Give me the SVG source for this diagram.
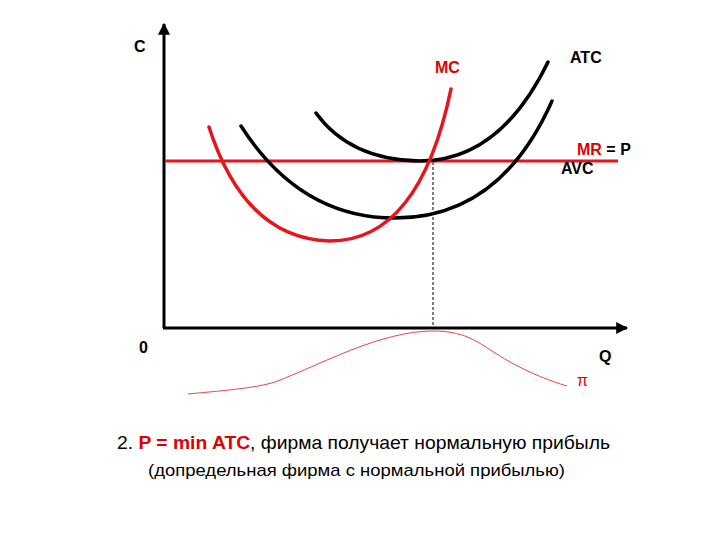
<svg xmlns="http://www.w3.org/2000/svg" width="720" height="540" viewBox="0 0 720 540">
<style>
.lbl{font-family:"Liberation Sans",Arial,sans-serif;font-size:16px;font-weight:bold;fill:#000}
.red{fill:#e00000}
.curve{fill:none;stroke-width:3.5;stroke-linecap:round}
.blk{stroke:#000}
.rd{stroke:#e8141c}
.txt{font-family:"Liberation Sans",Arial,sans-serif;fill:#000}
</style>
<defs>
<marker id="arr" viewBox="0 0 10 10" refX="9" refY="5" markerWidth="4" markerHeight="4" orient="auto" markerUnits="strokeWidth">
<path d="M0,0 L10,5 L0,10 z" fill="#000"/>
</marker>
</defs>
<rect width="720" height="540" fill="#fff"/>
<g id="connectors">
<line x1="164" y1="328" x2="164" y2="24" stroke="#000" stroke-width="3" marker-end="url(#arr)"/>
<line x1="163" y1="328" x2="627" y2="328" stroke="#000" stroke-width="3" marker-end="url(#arr)"/>
<line x1="433" y1="162" x2="433" y2="328" stroke="#000" stroke-width="1" stroke-dasharray="3,2"/>
</g>
<g id="mr-line"><line x1="165" y1="161" x2="618" y2="161" stroke="#e8141c" stroke-width="3"/></g>
<g id="atc"><path class="curve blk" d="M316,113 Q350,160 420,161 Q500,161 548,62"/></g>
<g id="avc"><path class="curve blk" d="M241,126 Q300,218 395,218 Q500,218 552,101"/></g>
<g id="mc"><path class="curve rd" d="M209,127 Q245,239 330,241 C390,241 430,190 451,89"/></g>
<g id="profit"><path d="M188,394 C230,390 255,388 275,382 C320,365 380,331 433,331 C470,331 480,345 510,362 C530,373 550,381 567,386" fill="none" stroke="#e8141c" stroke-width="1" opacity="0.8"/></g>
<g id="labels">
<text class="lbl" x="134" y="52">C</text>
<text class="lbl" x="139" y="353">0</text>
<text class="lbl" x="599" y="362">Q</text>
<text class="lbl red" x="577" y="386" style="font-weight:normal">π</text>
<text class="lbl" x="570" y="63">ATC</text>
<text class="lbl red" x="435" y="73">MC</text>
<text class="lbl" x="577" y="155"><tspan class="red">MR</tspan> = P</text>
<text class="lbl" x="561" y="174">AVC</text>
</g>
<g id="caption">
<text class="txt" x="117" y="449" font-size="19" textLength="493" lengthAdjust="spacingAndGlyphs">2. <tspan fill="#e00000" font-weight="bold">P = min ATC</tspan>, фирма получает нормальную прибыль</text>
<text class="txt" x="148" y="476" font-size="17" textLength="417" lengthAdjust="spacingAndGlyphs">(допредельная фирма с нормальной прибылью)</text>
</g>
</svg>
